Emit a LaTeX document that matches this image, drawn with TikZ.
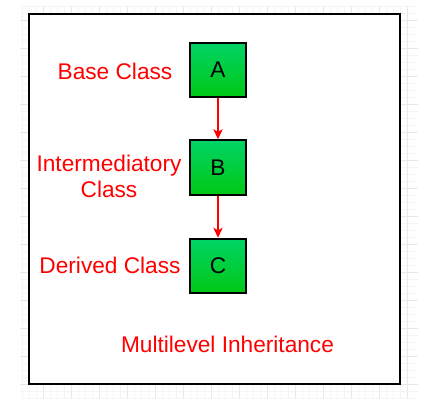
\documentclass[tikz,border=0pt]{standalone}
\usepackage{fontspec}
\setmainfont{Liberation Sans}
\usetikzlibrary{arrows.meta}
\definecolor{redtxt}{RGB}{255,0,0}
\definecolor{gtop}{RGB}{0,212,102}
\definecolor{gbot}{RGB}{0,200,20}
\definecolor{gridminor}{RGB}{245,245,245}
\definecolor{gridmajor}{RGB}{232,232,232}
\tikzset{
  classbox/.style={draw=black, line width=1.4pt, top color=gtop, bottom color=gbot,
    minimum width=42pt, minimum height=41pt, inner sep=0pt, text=black,
    font=\fontsize{17}{19.5}\selectfont},
  lbl/.style={text=redtxt, font=\fontsize{17}{19.5}\selectfont, inner sep=0pt, align=center},
  redarrow/.style={draw=redtxt, line width=1.1pt, -{Stealth[length=7.5pt,width=7pt,inset=2pt]}},
}
\begin{document}
\begin{tikzpicture}[x=0.75pt,y=-0.75pt]
\useasboundingbox (0,0) rectangle (427,400);
\fill[white] (0,0) rectangle (427,400);
% grid
\begin{scope}
\clip (20,6) rectangle (418,398);
\foreach \i in {0,...,57} {
  \draw[gridminor, line width=0.5pt] ({1+7*\i},6) -- ({1+7*\i},398);
  \draw[gridminor, line width=0.5pt] (20,{6+7*\i}) -- (418,{6+7*\i});
}
\foreach \i in {0,...,15} {
  \draw[gridmajor, line width=0.6pt] ({15+28*\i},6) -- ({15+28*\i},398);
  \draw[gridmajor, line width=0.6pt] (20,{-8+28*\i}) -- (418,{-8+28*\i});
}
\end{scope}
% frame
\draw[black, line width=1.5pt, fill=white] (29.3,13.7) rectangle (400,383.7);
% boxes
\node[classbox] (A) at (218,70) {A};
\node[classbox] (B) at (218,167.5) {B};
\node[classbox] (C) at (218,266) {C};
\draw[redarrow] (A.south) -- (B.north);
\draw[redarrow] (B.south) -- (C.north);
% labels
\node[lbl, anchor=base] (lbase) at (115,79) {Base Class};
\node[lbl, anchor=center] (linter) at (109,176) {Intermediatory\\Class};
\node[lbl, anchor=base] (lderived) at (110,273) {Derived Class};
\node[lbl, anchor=base] (ltitle) at (227.5,352) {Multilevel Inheritance};
\end{tikzpicture}
\end{document}
